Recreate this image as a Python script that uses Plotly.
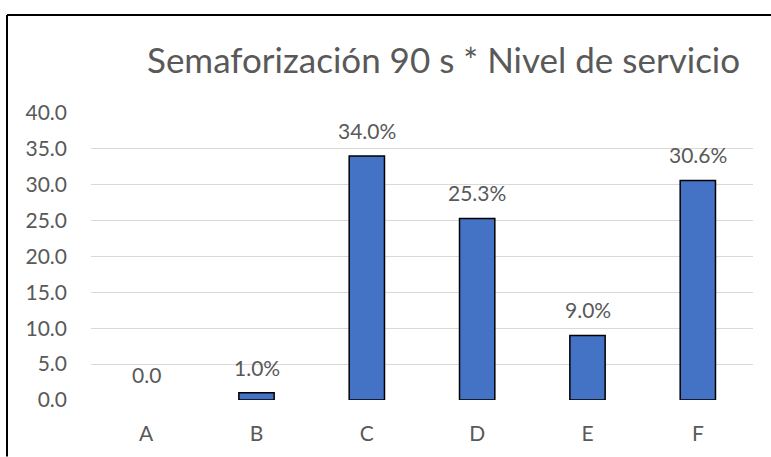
import plotly.graph_objects as go

categories = ["A", "B", "C", "D", "E", "F"]
values = [0.0, 1.0, 34.0, 25.3, 9.0, 30.6]
labels = ["0.0", "1.0%", "34.0%", "25.3%", "9.0%", "30.6%"]
y_ticks = [0, 5, 10, 15, 20, 25, 30, 35, 40]
title = "Semaforización 90 s * Nivel de servicio"

W, H = 771, 457
L, R, T, B = 91, 18, 113, 54
pw, ph = W - L - R, H - T - B

def px_x(p):
    return (p - L) / pw

def px_y(p):
    return (H - B - p) / ph

FONT = "Lato"
GREY = "#595959"

fig = go.Figure()
fig.add_trace(go.Bar(
    x=categories, y=values,
    marker=dict(color="#4472C4",
                line=dict(color="black", width=[0 if v == 0 else 1.5 for v in values])),
    width=0.32,
    hoverinfo="skip",
))

for c, v, t in zip(categories, values, labels):
    fig.add_annotation(x=c, y=v, text=t, showarrow=False, yanchor="bottom",
                       yshift=11, font=dict(family=FONT, size=21, color=GREY))

fig.add_annotation(xref="paper", yref="paper", x=px_x(443), y=px_y(58),
                   text=title, showarrow=False, xanchor="center", yanchor="middle",
                   font=dict(family=FONT, size=35, color=GREY))

fig.add_shape(type="line", xref="paper", yref="paper",
              x0=px_x(7), x1=px_x(772), y0=px_y(14), y1=px_y(14),
              line=dict(color="black", width=2))
fig.add_shape(type="line", xref="paper", yref="paper",
              x0=px_x(7), x1=px_x(7), y0=px_y(14), y1=px_y(460),
              line=dict(color="black", width=2))

fig.update_layout(
    width=W, height=H,
    margin=dict(l=L, r=R, t=T, b=B),
    paper_bgcolor="white", plot_bgcolor="white",
    showlegend=False,
    font=dict(family=FONT, color=GREY),
)
fig.update_xaxes(showgrid=False, showline=False, zeroline=False, ticks="",
                 tickfont=dict(family=FONT, size=21, color=GREY),
                 ticklabelstandoff=19)
fig.update_yaxes(range=[0, 40], tickvals=y_ticks,
                 ticktext=[f"{v:.1f}" for v in y_ticks],
                 showgrid=True, gridcolor="#D9D9D9", gridwidth=1.3,
                 zeroline=False, showline=False, ticks="",
                 tickfont=dict(family=FONT, size=21, color=GREY),
                 ticklabelstandoff=23)

fig.write_html("out.html",
               config={"displayModeBar": False},
               post_script="document.body.style.margin='0';document.body.style.overflow='hidden';")
